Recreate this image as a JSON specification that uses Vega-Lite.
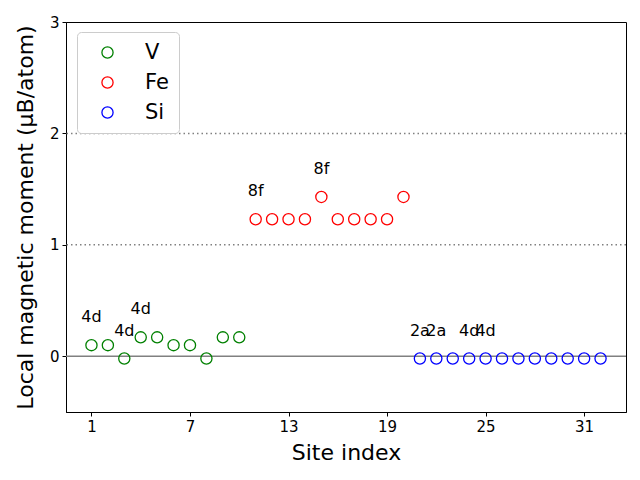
{
  "$schema": "https://vega.github.io/schema/vega-lite/v6.json",
  "width": 560,
  "height": 390,
  "autosize": "none",
  "padding": {"left": 66, "top": 22, "right": 14, "bottom": 68},
  "config": {
    "font": "DejaVu Sans",
    "view": {"stroke": "black", "strokeWidth": 1}
  },
  "datasets": {
    "sites": [
      {"site": 1, "moment": 0.10, "element": "V", "label": "4d"},
      {"site": 2, "moment": 0.10, "element": "V", "label": ""},
      {"site": 3, "moment": -0.02, "element": "V", "label": "4d"},
      {"site": 4, "moment": 0.17, "element": "V", "label": "4d"},
      {"site": 5, "moment": 0.17, "element": "V", "label": ""},
      {"site": 6, "moment": 0.10, "element": "V", "label": ""},
      {"site": 7, "moment": 0.10, "element": "V", "label": ""},
      {"site": 8, "moment": -0.02, "element": "V", "label": ""},
      {"site": 9, "moment": 0.17, "element": "V", "label": ""},
      {"site": 10, "moment": 0.17, "element": "V", "label": ""},
      {"site": 11, "moment": 1.23, "element": "Fe", "label": "8f"},
      {"site": 12, "moment": 1.23, "element": "Fe", "label": ""},
      {"site": 13, "moment": 1.23, "element": "Fe", "label": ""},
      {"site": 14, "moment": 1.23, "element": "Fe", "label": ""},
      {"site": 15, "moment": 1.43, "element": "Fe", "label": "8f"},
      {"site": 16, "moment": 1.23, "element": "Fe", "label": ""},
      {"site": 17, "moment": 1.23, "element": "Fe", "label": ""},
      {"site": 18, "moment": 1.23, "element": "Fe", "label": ""},
      {"site": 19, "moment": 1.23, "element": "Fe", "label": ""},
      {"site": 20, "moment": 1.43, "element": "Fe", "label": ""},
      {"site": 21, "moment": -0.02, "element": "Si", "label": "2a"},
      {"site": 22, "moment": -0.02, "element": "Si", "label": "2a"},
      {"site": 23, "moment": -0.02, "element": "Si", "label": ""},
      {"site": 24, "moment": -0.02, "element": "Si", "label": "4d"},
      {"site": 25, "moment": -0.02, "element": "Si", "label": "4d"},
      {"site": 26, "moment": -0.02, "element": "Si", "label": ""},
      {"site": 27, "moment": -0.02, "element": "Si", "label": ""},
      {"site": 28, "moment": -0.02, "element": "Si", "label": ""},
      {"site": 29, "moment": -0.02, "element": "Si", "label": ""},
      {"site": 30, "moment": -0.02, "element": "Si", "label": ""},
      {"site": 31, "moment": -0.02, "element": "Si", "label": ""},
      {"site": 32, "moment": -0.02, "element": "Si", "label": ""}
    ]
  },
  "layer": [
    {
      "data": {"values": [{"y": 1}, {"y": 2}]},
      "mark": {"type": "rule", "color": "#808080", "strokeWidth": 1.5, "strokeDash": [1.5, 3]},
      "encoding": {"y": {"field": "y", "type": "quantitative", "scale": {"domain": [-0.5, 3]}}}
    },
    {
      "data": {"values": [{"y": 0}]},
      "mark": {"type": "rule", "color": "#808080", "strokeWidth": 1.5},
      "encoding": {"y": {"field": "y", "type": "quantitative"}}
    },
    {
      "data": {"name": "sites"},
      "mark": {"type": "point", "filled": false, "size": 125, "strokeWidth": 1.3, "opacity": 1},
      "encoding": {
        "x": {
          "field": "site", "type": "quantitative",
          "scale": {"domain": [-0.55, 33.55], "nice": false, "zero": false},
          "axis": {
            "title": "Site index", "values": [1, 7, 13, 19, 25, 31], "grid": false,
            "labelFontSize": 15, "titleFontSize": 22, "titleFontWeight": "normal",
            "labelColor": "black", "titleColor": "black", "domainColor": "black", "tickColor": "black",
            "tickSize": 4, "labelPadding": 3, "titlePadding": 8, "format": "d"
          }
        },
        "y": {
          "field": "moment", "type": "quantitative",
          "scale": {"domain": [-0.5, 3], "nice": false, "zero": false},
          "axis": {
            "title": "Local magnetic moment (μB/atom)", "values": [0, 1, 2, 3], "grid": false,
            "labelFontSize": 15, "titleFontSize": 22, "titleFontWeight": "normal",
            "labelColor": "black", "titleColor": "black", "domainColor": "black", "tickColor": "black",
            "tickSize": 4, "labelPadding": 3, "titlePadding": 12, "format": "d"
          }
        },
        "color": {
          "field": "element", "type": "nominal",
          "scale": {"domain": ["V", "Fe", "Si"], "range": ["#008000", "#ff0000", "#0000ff"]},
          "legend": {
            "title": null, "orient": "none", "legendX": 11, "legendY": 10,
            "labelFontSize": 21, "labelColor": "black", "symbolSize": 125, "symbolStrokeWidth": 1.3,
            "symbolType": "circle", "symbolFillColor": "transparent", "symbolOffset": 10,
            "rowPadding": 8, "labelOffset": 27, "padding": 10,
            "strokeColor": "#cccccc", "cornerRadius": 4, "fillColor": "white"
          }
        }
      }
    },
    {
      "data": {"name": "sites"},
      "transform": [{"filter": "datum.label != ''"}],
      "mark": {"type": "text", "fontSize": 16, "baseline": "middle", "align": "center", "dy": -28, "color": "black"},
      "encoding": {
        "x": {"field": "site", "type": "quantitative"},
        "y": {"field": "moment", "type": "quantitative"},
        "text": {"field": "label"}
      }
    }
  ]
}
